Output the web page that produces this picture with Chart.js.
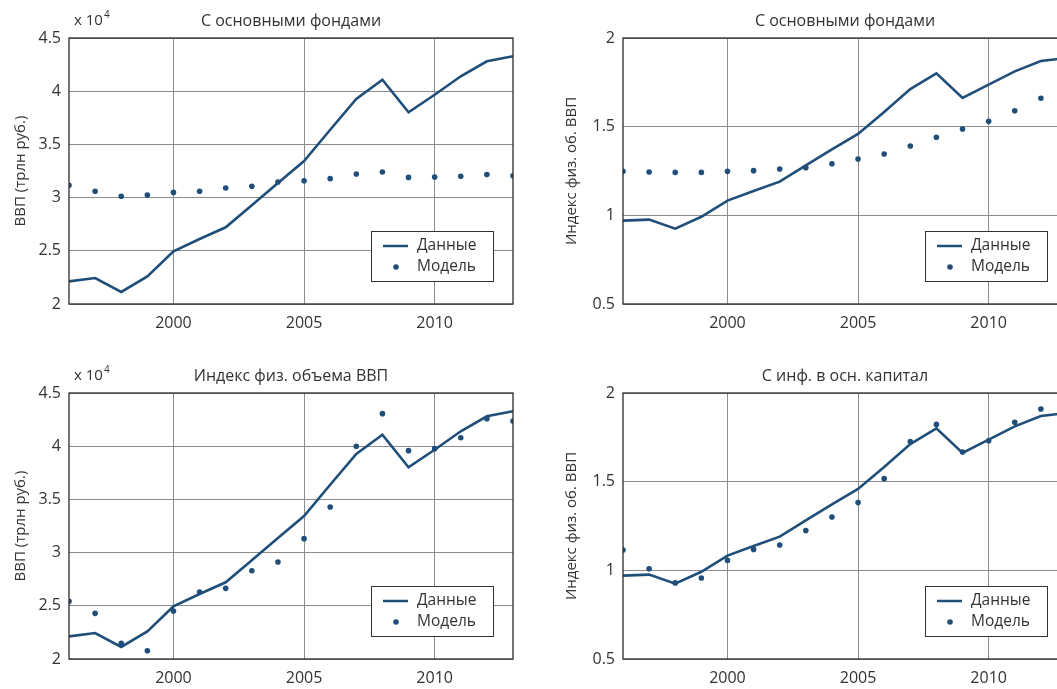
<!DOCTYPE html>
<html>
<head>
<meta charset="utf-8">
<script src="https://cdn.jsdelivr.net/npm/chart.js@4"></script>
<style>
  html, body { margin: 0; padding: 0; background: #fff; overflow: hidden; width: 1057px; height: 689px; }
  canvas { position: absolute; }
</style>
</head>
<body>
<canvas id="c1" width="530" height="345" style="left:0;top:0"></canvas>
<canvas id="c2" width="554" height="345" style="left:530px;top:0"></canvas>
<canvas id="c3" width="530" height="345" style="left:0;top:355px"></canvas>
<canvas id="c4" width="554" height="345" style="left:530px;top:355px"></canvas>
<script>
const years = [1996, 1997, 1998, 1999, 2000, 2001, 2002, 2003, 2004, 2005, 2006, 2007, 2008, 2009, 2010, 2011, 2012, 2013];
const xTicks = [2000, 2005, 2010];

// ВВП, x 10^4 трлн руб.
const gdpData = [2.213, 2.244, 2.113, 2.26, 2.495, 2.611, 2.721, 2.927, 3.137, 3.344, 3.638, 3.927, 4.108, 3.801, 3.967, 4.14, 4.281, 4.328];
const gdpModelFunds = [3.115, 3.059, 3.012, 3.024, 3.049, 3.059, 3.09, 3.106, 3.147, 3.159, 3.178, 3.222, 3.241, 3.19, 3.194, 3.2, 3.216, 3.206];
const gdpModelIndex = [2.542, 2.429, 2.147, 2.078, 2.451, 2.63, 2.664, 2.83, 2.912, 3.131, 3.429, 3.999, 4.306, 3.958, 3.977, 4.08, 4.259, 4.237];

// индекс физ. объема ВВП
const idxData = [0.97, 0.976, 0.925, 0.992, 1.083, 1.137, 1.19, 1.282, 1.372, 1.459, 1.583, 1.712, 1.801, 1.662, 1.737, 1.812, 1.87, 1.887];
const idxModelFunds = [1.248, 1.244, 1.242, 1.242, 1.248, 1.252, 1.261, 1.269, 1.291, 1.318, 1.346, 1.391, 1.44, 1.487, 1.53, 1.59, 1.66, 1.73];
const idxModelInv = [1.115, 1.009, 0.929, 0.957, 1.056, 1.118, 1.143, 1.224, 1.301, 1.382, 1.517, 1.726, 1.823, 1.667, 1.731, 1.835, 1.91, 1.9];

const blue = "#1f4e79";
const textColor = "#333333";
const gridColor = "#8c8c8c";
const FONT = "'Open Sans', sans-serif";

const pts = (vals) => years.map((y, i) => ({ x: y, y: vals[i] }));

// рамка, заголовок, множитель и легенда внутри осей
const decor = {
  id: "decor",
  afterDraw(chart, args, opts) {
    const ctx = chart.ctx;
    const ca = chart.chartArea;
    ctx.save();
    ctx.strokeStyle = "#2b2b2b";
    ctx.lineWidth = 1.3;
    ctx.strokeRect(ca.left, ca.top, ca.right - ca.left, ca.bottom - ca.top);

    ctx.fillStyle = textColor;
    ctx.font = "16px " + FONT;
    ctx.textAlign = "center";
    ctx.textBaseline = "middle";
    ctx.fillText(opts.title, (ca.left + ca.right) / 2, 21);

    if (opts.exp) {
      ctx.font = "15px " + FONT;
      ctx.textAlign = "left";
      ctx.fillText("x 10", ca.left + 5, 21);
      const w = ctx.measureText("x 10").width;
      ctx.font = "10px " + FONT;
      ctx.fillText("4", ca.left + 6 + w, 15);
    }

    // легенда
    const bw = 122, bh = 50;
    const bx = Math.round(ca.right - 20 - bw), by = Math.round(ca.bottom - 23 - bh);
    ctx.fillStyle = "#fff";
    ctx.fillRect(bx, by, bw, bh);
    ctx.strokeStyle = "#333";
    ctx.lineWidth = 1;
    ctx.strokeRect(bx + 0.5, by + 0.5, bw, bh);
    ctx.strokeStyle = blue;
    ctx.lineWidth = 2.5;
    ctx.beginPath();
    ctx.moveTo(bx + 12, by + 15);
    ctx.lineTo(bx + 37, by + 15);
    ctx.stroke();
    ctx.fillStyle = blue;
    ctx.beginPath();
    ctx.arc(bx + 25, by + 36, 2.8, 0, Math.PI * 2);
    ctx.fill();
    ctx.fillStyle = textColor;
    ctx.font = "15.5px " + FONT;
    ctx.textAlign = "left";
    ctx.fillText("Данные", bx + 46, by + 15);
    ctx.fillText("Модель", bx + 46, by + 36);
    ctx.restore();
  }
};

function makeChart(id, title, yTitle, yMin, yMax, line, model, exp, yWidth, yTitlePad) {
  return new Chart(document.getElementById(id), {
    type: "line",
    data: {
      datasets: [
        {
          label: "Данные",
          data: pts(line),
          borderColor: blue,
          borderWidth: 2.6,
          pointRadius: 0,
          tension: 0,
        },
        {
          label: "Модель",
          data: pts(model),
          showLine: false,
          pointRadius: 2.8,
          pointBackgroundColor: blue,
          pointBorderWidth: 0,
        },
      ],
    },
    options: {
      responsive: false,
      animation: false,
      layout: { padding: { top: 38, right: 17, left: 0, bottom: 0 } },
      plugins: {
        legend: { display: false },
        tooltip: { enabled: false },
        decor: { title: title, exp: exp },
      },
      scales: {
        x: {
          type: "linear",
          min: 1996,
          max: 2013,
          afterBuildTicks: (s) => { s.ticks = xTicks.map((v) => ({ value: v })); },
          afterFit: (s) => { s.height = 41; },
          ticks: {
            color: textColor,
            font: { family: FONT, size: 16 },
            padding: 10,
            maxRotation: 0,
            callback: (v) => String(v),
          },
          grid: { color: gridColor, lineWidth: 1, drawTicks: false },
          border: { display: false },
        },
        y: {
          min: yMin,
          max: yMax,
          afterFit: (s) => { s.width = yWidth; },
          ticks: {
            stepSize: 0.5,
            color: textColor,
            font: { family: FONT, size: 16 },
            padding: 8,
            callback: (v) => String(v),
          },
          grid: { color: gridColor, lineWidth: 1, drawTicks: false },
          border: { display: false },
          title: {
            display: true,
            text: yTitle,
            color: textColor,
            font: { family: FONT, size: 15 },
            padding: { top: yTitlePad, bottom: 0 },
          },
        },
      },
    },
    plugins: [decor],
  });
}

makeChart("c1", "С основными фондами", "ВВП (трлн руб.)", 2, 4.5, gdpData, gdpModelFunds, true, 69, 12);
makeChart("c2", "С основными фондами", "Индекс физ. об. ВВП", 0.5, 2, idxData, idxModelFunds, false, 93, 33);
makeChart("c3", "Индекс физ. объема ВВП", "ВВП (трлн руб.)", 2, 4.5, gdpData, gdpModelIndex, true, 69, 12);
makeChart("c4", "С инф. в осн. капитал", "Индекс физ. об. ВВП", 0.5, 2, idxData, idxModelInv, false, 93, 33);
</script>
</body>
</html>
